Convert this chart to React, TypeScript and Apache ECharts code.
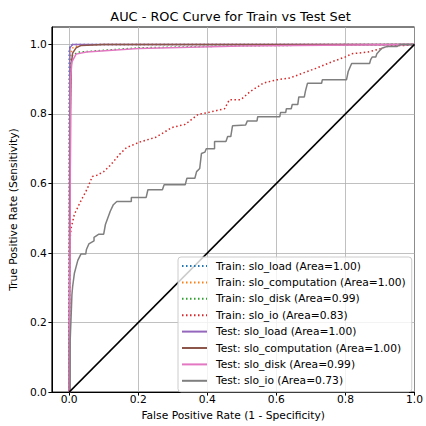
import React, { useEffect, useRef } from "react";
import * as echarts from "echarts";

const tickValues = [0, 0.2, 0.4, 0.6, 0.8, 1.0];

const seriesNames = [
  "Train: slo_load (Area=1.00)",
  "Train: slo_computation (Area=1.00)",
  "Train: slo_disk (Area=0.99)",
  "Train: slo_io (Area=0.83)",
  "Test: slo_load (Area=1.00)",
  "Test: slo_computation (Area=1.00)",
  "Test: slo_disk (Area=0.99)",
  "Test: slo_io (Area=0.73)",
];

const colors = ["#1f77b4", "#ff7f0e", "#2ca02c", "#d62728", "#9467bd", "#8c564b", "#e377c2", "#7f7f7f"];

const trainLoad = [[0, 0], [0, 0.985], [0.003, 0.995], [0.01, 1], [1, 1]];
const trainComputation = [[0, 0], [0.001, 0.9], [0.004, 0.97], [0.01, 0.99], [0.03, 0.997], [0.1, 1], [1, 1]];
const trainDisk = [[0, 0], [0.002, 0.6], [0.004, 0.94], [0.01, 0.97], [0.03, 0.978], [0.1, 0.983], [0.2, 0.99], [0.5, 0.996], [1, 1]];
const trainIo = [
  [0, 0], [0.001, 0.2], [0.001, 0.426], [0.006, 0.473], [0.015, 0.511], [0.034, 0.55], [0.053, 0.586],
  [0.067, 0.62], [0.081, 0.624], [0.1, 0.634], [0.119, 0.652], [0.147, 0.685], [0.166, 0.703],
  [0.204, 0.719], [0.251, 0.733], [0.298, 0.761], [0.336, 0.77], [0.374, 0.799], [0.402, 0.804],
  [0.45, 0.815], [0.464, 0.841], [0.497, 0.841], [0.525, 0.865], [0.563, 0.889], [0.6, 0.898],
  [0.638, 0.903], [0.676, 0.917], [0.714, 0.931], [0.761, 0.95], [0.8, 0.964], [0.818, 0.973],
  [0.865, 0.978], [0.903, 0.988], [0.931, 0.997], [0.969, 0.997], [1, 1],
];
const testLoad = [[0, 0], [0.002, 0.99], [0.01, 1], [1, 1]];
const testComputation = [[0, 0], [0.004, 0.8], [0.006, 0.94], [0.01, 0.975], [0.02, 0.99], [0.035, 0.997], [0.1, 1], [1, 1]];
const testDisk = [[0, 0], [0.003, 0.5], [0.004, 0.9], [0.008, 0.95], [0.02, 0.972], [0.05, 0.978], [0.2, 0.988], [0.5, 0.995], [0.9, 0.999], [1, 1]];
const testIo = [
  [0, 0], [0.003, 0.0], [0.003, 0.15], [0.006, 0.227], [0.008, 0.28], [0.01, 0.303], [0.015, 0.341],
  [0.02, 0.36], [0.025, 0.379], [0.034, 0.397], [0.048, 0.397], [0.05, 0.41], [0.057, 0.426],
  [0.072, 0.435], [0.072, 0.445], [0.086, 0.454], [0.1, 0.454], [0.105, 0.482], [0.119, 0.52],
  [0.128, 0.539], [0.138, 0.548], [0.18, 0.548], [0.18, 0.56], [0.223, 0.56], [0.228, 0.582],
  [0.27, 0.582], [0.275, 0.596], [0.336, 0.596], [0.341, 0.615], [0.364, 0.615], [0.369, 0.634],
  [0.378, 0.643], [0.383, 0.686], [0.393, 0.69], [0.397, 0.7], [0.421, 0.7], [0.421, 0.721],
  [0.454, 0.721], [0.459, 0.735], [0.468, 0.735], [0.473, 0.766], [0.511, 0.768], [0.516, 0.78],
  [0.544, 0.78], [0.546, 0.792], [0.61, 0.792], [0.612, 0.804], [0.627, 0.804], [0.629, 0.815],
  [0.643, 0.815], [0.646, 0.827], [0.662, 0.827], [0.665, 0.849], [0.681, 0.849], [0.684, 0.865],
  [0.69, 0.888], [0.731, 0.888], [0.733, 0.898], [0.803, 0.898], [0.808, 0.922], [0.818, 0.945],
  [0.87, 0.945], [0.873, 0.956], [0.878, 0.964], [0.888, 0.964], [0.891, 0.973], [0.9, 0.983],
  [0.907, 0.99], [0.921, 0.994], [0.95, 0.994], [0.96, 1.0], [1, 1],
];
const diagonal = [[0, 0], [1, 1]];

const seriesData = [trainLoad, trainComputation, trainDisk, trainIo, testLoad, testComputation, testDisk, testIo];

const FONT = "DejaVu Sans";

export default function App() {
  const ref = useRef<HTMLDivElement>(null);
  useEffect(() => {
    const chart = echarts.init(ref.current!, null, { renderer: "svg" });
    const series: any[] = seriesData.map((d, i) => ({
      name: seriesNames[i],
      type: "line",
      data: d,
      symbol: "none",
      showSymbol: false,
      lineStyle: {
        color: colors[i],
        width: 1.5,
        type: i < 4 ? [1.5, 2.5] : "solid",
      },
      itemStyle: { color: colors[i] },
      z: 2,
    }));
    series.push({
      name: "diag",
      type: "line",
      data: diagonal,
      symbol: "none",
      lineStyle: { color: "#000", width: 1.5 },
      z: 2,
    });
    chart.setOption({
      animation: false,
      backgroundColor: "#fff",
      title: {
        text: "AUC - ROC Curve for Train vs Test Set",
        left: 230.5,
        textAlign: "center",
        top: 9.5,
        padding: 0,
        textStyle: { fontFamily: FONT, fontSize: 12.9, fontWeight: "normal", color: "#000" },
      },
      grid: {
        left: 45, right: 10, top: 27, bottom: 29,
        show: true, borderColor: "#000", borderWidth: 1, backgroundColor: "transparent",
      },
      legend: {
        data: seriesNames,
        orient: "vertical",
        left: 178,
        top: 257,
        padding: [3, 6, 5, 3],
        itemWidth: 25,
        itemHeight: 12,
        itemGap: 4.4,
        itemStyle: { opacity: 0, borderWidth: 0 },
        backgroundColor: "rgba(255,255,255,0.8)",
        borderColor: "#cccccc",
        borderWidth: 1,
        borderRadius: 3,
        textStyle: { fontFamily: FONT, fontSize: 10.7, color: "#000", lineHeight: 12, padding: [0, 0, 0, 4] },
      },
      xAxis: {
        type: "value",
        min: -0.05,
        max: 1.0,
        name: "False Positive Rate (1 - Specificity)",
        nameLocation: "middle",
        nameGap: 15,
        nameTextStyle: { fontFamily: FONT, fontSize: 10.7, color: "#000" },
        axisLine: { show: true, onZero: false, lineStyle: { color: "#000", width: 1 } },
        axisTick: { show: true, length: 3.5, customValues: tickValues, lineStyle: { color: "#000" } },
        axisLabel: {
          customValues: tickValues,
          margin: 2,
          fontFamily: FONT,
          fontSize: 10.7,
          color: "#000",
          formatter: (v: number) => v.toFixed(1),
        },
        splitLine: { show: true, lineStyle: { color: "#b0b0b0", width: 0.8 } },
      },
      yAxis: {
        type: "value",
        min: 0,
        max: 1.05,
        name: "True Positive Rate (Sensitivity)",
        nameLocation: "middle",
        nameGap: 28,
        nameTextStyle: { fontFamily: FONT, fontSize: 10.7, color: "#000" },
        axisLine: { show: true, onZero: false, lineStyle: { color: "#000", width: 1 } },
        axisTick: { show: true, length: 3.5, customValues: tickValues, lineStyle: { color: "#000" } },
        axisLabel: {
          customValues: tickValues,
          margin: 5,
          fontFamily: FONT,
          fontSize: 10.7,
          color: "#000",
          formatter: (v: number) => v.toFixed(1),
        },
        splitLine: { show: true, lineStyle: { color: "#b0b0b0", width: 0.8 } },
      },
      series,
    });
    return () => chart.dispose();
  }, []);
  return <div ref={ref} style={{ width: 426, height: 426, position: "absolute", left: 0, top: 0 }} />;
}
